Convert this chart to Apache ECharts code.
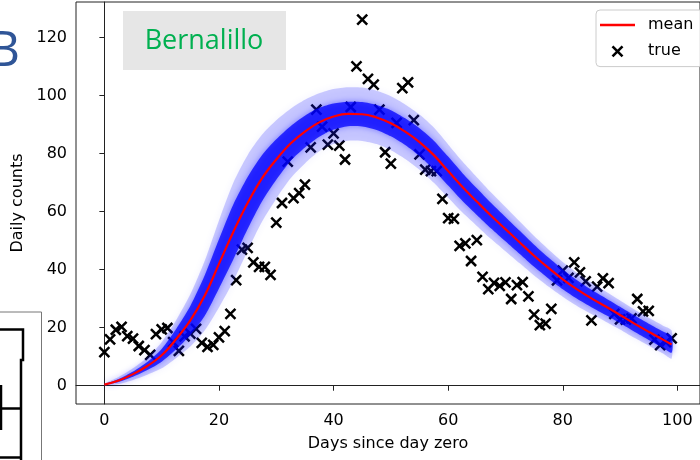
<!DOCTYPE html>
<html>
<head>
<meta charset="utf-8">
<script src="https://cdn.jsdelivr.net/npm/echarts@6/dist/echarts.min.js"></script>
<style>
html,body{margin:0;padding:0;background:#fff;}
#chart{width:700px;height:460px;}
</style>
</head>
<body>
<div id="chart"></div>
<script>
// ---- data ----
const xTicks = [0, 20, 40, 60, 80, 100];
const yTicks = [0, 20, 40, 60, 80, 100, 120];

const trueDays = [];
for (let d = 0; d < 100; d++) trueDays.push(d);
const trueValues = [
  11.6, 16, 19.3, 20.3, 17.1, 16.2, 13.7, 12.3, 10.6, 17.8,
  19.4, 19.9, 15, 12, 17, 18, 19.6, 14.8, 13.4, 14.1,
  16.7, 18.8, 24.8, 36.4, 46.9, 47.5, 42.5, 41, 41, 38.2,
  56.2, 63, 77.3, 64.7, 66.4, 69.3, 82.2, 95.2, 89.3, 83.1,
  87, 82.8, 78, 96.1, 110.1, 126.2, 105.8, 103.8, 95.2, 80.5,
  76.6, 90.6, 102.6, 104.6, 91.6, 79.8, 74.5, 74, 74, 64.4,
  57.8, 57.5, 48.2, 49.1, 43, 50.2, 37.5, 33.3, 35.5, 34.4,
  35.6, 29.9, 34.7, 35.7, 30.8, 24.5, 20.9, 21.4, 26.5, 36.3,
  39.7, 37.2, 42.5, 39.1, 36, 22.5, 34.2, 37, 35.4, 24.8,
  22.9, 22.8, 23.2, 29.9, 25.6, 25.8, 15.9, 14, 15, 16.3
];

const meanDays = [0, 2.5, 5, 7.5, 10, 12.5, 15, 17.5, 20, 22.5, 25, 27.5, 30, 32.5, 35, 37.5,
  40, 42.5, 45, 47.5, 50, 52.5, 55, 57.5, 60, 62.5, 65, 67.5, 70, 72.5, 75, 77.5,
  80, 82.5, 85, 87.5, 90, 92.5, 95, 97.5, 99];
const meanValues = [0.4, 1.8, 4, 6.8, 10.5, 16, 22.5, 31, 42, 53, 63, 71.5, 78, 83.5, 87.6, 90.8,
  92.8, 93.7, 93.6, 92.5, 90.5, 87.6, 84, 79.5, 74, 68.5, 63.5, 58.6, 54, 49.4, 44.8, 40.6,
  36.7, 33.2, 30.1, 27.3, 24.4, 21.4, 18.6, 15.9, 14.2];
// half-widths of the sample-curve band (dense core / faint outer)
const innerHalf = [0.1, 0.5, 0.9, 1.4, 2.2, 3.5, 5, 7, 8.5, 9.5, 9, 8, 7, 6, 5.5, 5,
  4.5, 4.2, 4.2, 4.3, 4.5, 4.6, 4.8, 5, 5, 4.8, 4.6, 4.4, 4.2, 4, 3.8, 3.6,
  3.4, 3.2, 3, 2.9, 2.8, 2.8, 2.8, 2.8, 2.8];
const outerHalf = [0.3, 1.2, 2, 3, 4.5, 6.5, 9, 12, 15, 17, 16.5, 15, 13.5, 12, 11, 10,
  9.5, 9.2, 9.2, 9.2, 9.3, 9.4, 9.5, 9.5, 9.2, 8.8, 8.4, 8, 7.6, 7.2, 6.8, 6.4,
  6, 5.7, 5.4, 5.2, 5, 4.9, 4.8, 4.8, 4.8];

// ---- build series data ----
const scatterData = trueDays.map((d, i) => [d, trueValues[i]]);
const meanData = meanDays.map((d, i) => [d, meanValues[i]]);

const FONT = 'DejaVu Sans';
const xMark = 'path://M0,0L10,10M10,0L0,10';

const chart = echarts.init(document.getElementById('chart'), null, {renderer: 'canvas'});

function bandSeries(name, half, fill, blur, shadow) {
  return {
    name: name, type: 'custom', coordinateSystem: 'cartesian2d',
    data: meanData, encode: {x: 0, y: 1}, silent: true, z: 3,
    renderItem: function (params, api) {
      if (params.dataIndex !== 0) return null;
      const upper = meanDays.map((d, i) => api.coord([d, meanValues[i] + half[i]]));
      const lower = meanDays.map((d, i) => api.coord([d, meanValues[i] - half[i]])).reverse();
      return {
        type: 'polygon',
        shape: {points: upper.concat(lower), smooth: 0.25},
        style: {fill: fill, shadowBlur: blur, shadowColor: shadow}
      };
    }
  };
}

chart.setOption({
  animation: false,
  backgroundColor: '#ffffff',
  grid: {left: 76, right: -7, top: 2, bottom: 56, show: true, borderColor: '#222', borderWidth: 1, backgroundColor: 'transparent'},
  xAxis: {
    type: 'value', min: -4.95, max: 103.95,
    name: 'Days since day zero', nameLocation: 'middle', nameGap: 32,
    nameTextStyle: {fontFamily: FONT, fontSize: 16, color: '#000'},
    axisLine: {show: true, lineStyle: {color: '#222', width: 1}},
    axisTick: {show: true, length: 5, customValues: xTicks, lineStyle: {color: '#222'}},
    axisLabel: {customValues: xTicks, fontFamily: FONT, fontSize: 16, color: '#000', margin: 9},
    splitLine: {show: false}
  },
  yAxis: {
    type: 'value', min: -6.3, max: 132.3,
    name: 'Daily counts', nameLocation: 'middle', nameGap: 50,
    nameTextStyle: {fontFamily: FONT, fontSize: 16, color: '#000'},
    axisLine: {show: true, lineStyle: {color: '#222', width: 1}},
    axisTick: {show: true, length: 5, customValues: yTicks, lineStyle: {color: '#222'}},
    axisLabel: {customValues: yTicks, fontFamily: FONT, fontSize: 16, color: '#000', margin: 9},
    splitLine: {show: false}
  },
  legend: {
    left: 596, top: 10, orient: 'vertical',
    data: [
      {name: 'mean', icon: 'path://M0,0M35,14M0,5.7H35V8.3H0Z', itemStyle: {color: '#ff0000'}},
      {name: 'true', icon: 'path://M0,0M14,14M2,2L12,12M12,2L2,12',
       itemStyle: {color: 'transparent', borderColor: '#000', borderWidth: 2.6, opacity: 1}}
    ],
    itemWidth: 35, itemHeight: 14, itemGap: 10,
    padding: [7, 24, 7, 4],
    borderColor: '#cccccc', borderWidth: 1, borderRadius: 4,
    backgroundColor: 'rgba(255,255,255,0.85)',
    textStyle: {fontFamily: FONT, fontSize: 16, color: '#000', padding: [0, 0, 0, 8]}
  },
  series: [
    {
      name: 'true', type: 'scatter', data: scatterData, symbol: xMark, symbolSize: 10,
      symbolKeepAspect: true, z: 2,
      itemStyle: {color: 'transparent', borderColor: '#000', borderWidth: 2.5, opacity: 1}
    },
    bandSeries('outerBand', outerHalf, 'rgba(30,30,255,0.22)', 8, 'rgba(0,0,255,0.25)'),
    bandSeries('innerBand', innerHalf, 'rgba(0,0,255,0.74)', 6, 'rgba(0,0,255,0.5)'),
    {
      name: 'mean', type: 'line', data: meanData, smooth: 0.4, symbol: 'none', z: 5,
      lineStyle: {color: '#ff0000', width: 2.2}, itemStyle: {color: '#ff0000'}
    }
  ],
  graphic: [
    {type: 'rect', left: 123, top: 11, shape: {width: 163, height: 59}, style: {fill: '#e6e6e6'}, z: 10},
    {type: 'text', x: 204, y: 41, style: {text: 'Bernalillo', font: '27px "Open Sans"', fill: '#00b050', align: 'center', verticalAlign: 'middle'}, z: 11},
    {type: 'text', x: 20, y: 52, style: {text: 'B', font: '50px "Open Sans"', fill: '#2f5597', align: 'right', verticalAlign: 'middle'}, z: 11},
    {type: 'polyline', shape: {points: [[0, 312], [41.5, 312], [41.5, 460]]}, style: {stroke: '#777', lineWidth: 1, fill: null}, z: 11},
    {type: 'polyline', shape: {points: [[0, 329.5], [23, 329.5], [23, 360], [21, 360], [21, 460]]}, style: {stroke: '#000', lineWidth: 2.5, fill: null}, z: 11},
    {type: 'line', shape: {x1: 0, y1: 408.5, x2: 21, y2: 408.5}, style: {stroke: '#000', lineWidth: 2.5}, z: 11},
    {type: 'line', shape: {x1: 0, y1: 457.5, x2: 21, y2: 457.5}, style: {stroke: '#000', lineWidth: 2.5}, z: 11},
    {type: 'line', shape: {x1: 1, y1: 385, x2: 1, y2: 430}, style: {stroke: '#000', lineWidth: 2.5}, z: 11}
  ]
});
</script>
</body>
</html>
